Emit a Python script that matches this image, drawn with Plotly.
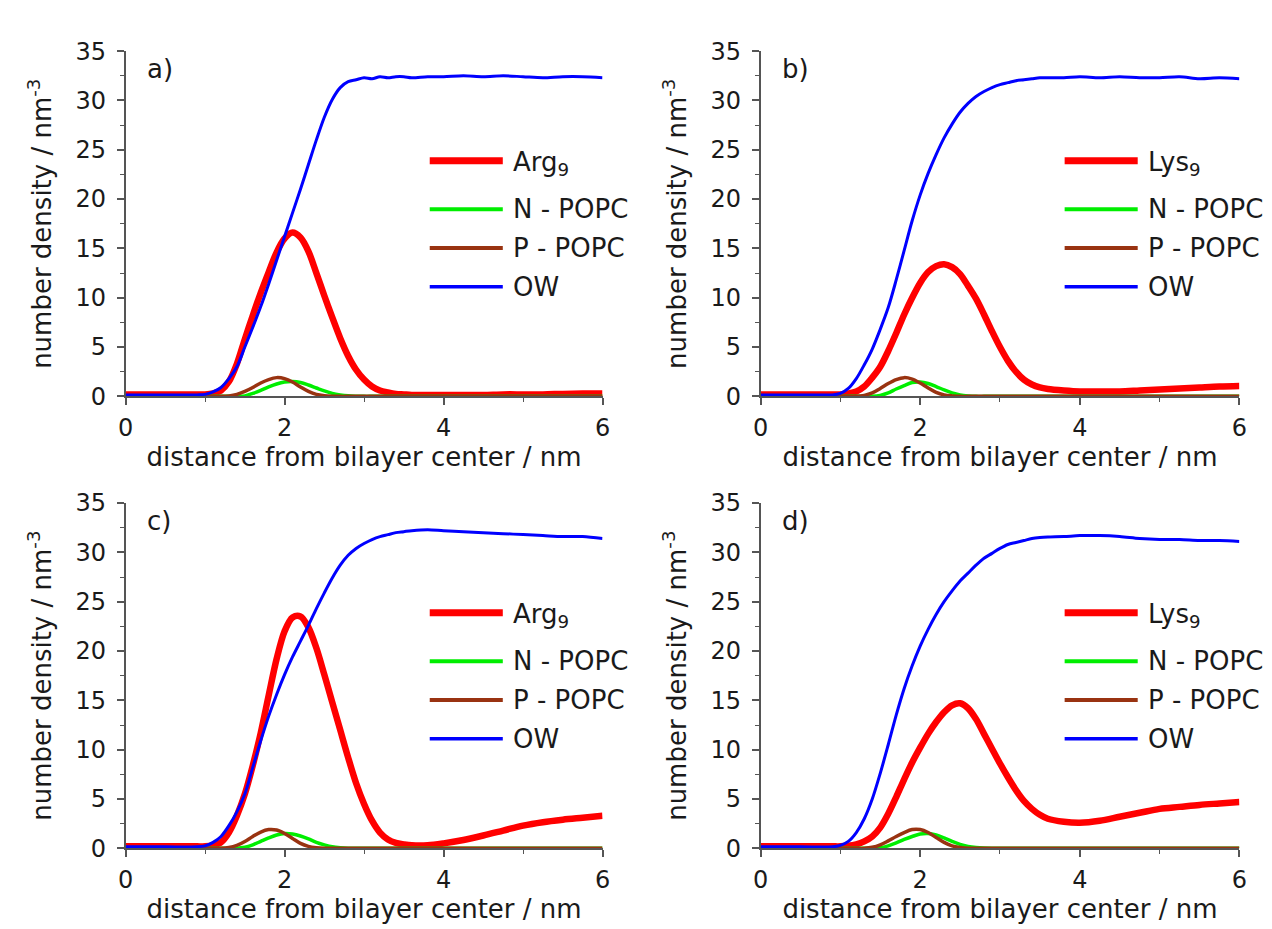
import plotly.graph_objects as go

# shared x grid (nm)
X = [0, 0.5, 0.9, 1.0, 1.1, 1.2, 1.3, 1.4, 1.5, 1.6, 1.7, 1.8, 1.9, 2.0, 2.1, 2.2, 2.3, 2.4,
     2.5, 2.6, 2.7, 2.8, 2.9, 3.0, 3.1, 3.2, 3.3, 3.4, 3.5, 3.6, 3.8, 4.0, 4.25, 4.5, 4.75,
     5.0, 5.25, 5.5, 5.75, 6.0]

# panel a) Arg9
RED_A = [0.2, 0.2, 0.2, 0.2, 0.3, 0.6, 1.5, 3.3, 5.8, 8.2, 10.5, 12.6, 14.6, 16.0, 16.6, 16.1, 14.7, 12.5,
         10.2, 8.0, 5.9, 4.1, 2.7, 1.7, 1.0, 0.6, 0.4, 0.25, 0.2, 0.15, 0.15, 0.15, 0.15, 0.15, 0.2,
         0.2, 0.2, 0.25, 0.28, 0.3]
GREEN_A = [0, 0, 0, 0, 0, 0, 0, 0, 0.05, 0.3, 0.6, 0.95, 1.25, 1.45, 1.5, 1.4, 1.15, 0.85,
           0.55, 0.3, 0.15, 0.06, 0.02, 0, 0, 0, 0, 0, 0, 0, 0, 0, 0, 0, 0,
           0, 0, 0, 0, 0]
BROWN_A = [0, 0, 0, 0, 0, 0, 0.05, 0.2, 0.5, 0.9, 1.35, 1.7, 1.9, 1.8, 1.45, 0.95, 0.5, 0.2,
           0.07, 0.02, 0, 0, 0, 0, 0, 0, 0, 0, 0, 0, 0, 0, 0, 0, 0,
           0, 0, 0, 0, 0]
OW_A = [0.15, 0.15, 0.15, 0.2, 0.45, 0.9, 1.8, 3.0, 5.0, 7.0, 9.1, 11.4, 13.8, 16.2, 18.6, 21.0, 23.5, 26.0,
        28.3, 30.1, 31.3, 31.9, 32.1, 32.3, 32.2, 32.4, 32.3, 32.4, 32.4, 32.3, 32.4, 32.4, 32.5, 32.4, 32.5,
        32.4, 32.3, 32.4, 32.4, 32.3]

# panel b) Lys9
RED_B = [0.2, 0.2, 0.2, 0.2, 0.3, 0.5, 1.0, 1.9, 3.0, 4.6, 6.4, 8.3, 10.0, 11.5, 12.6, 13.2, 13.4, 13.1,
         12.4, 11.2, 9.9, 8.3, 6.6, 5.0, 3.6, 2.5, 1.7, 1.2, 0.9, 0.75, 0.6, 0.5, 0.5, 0.5, 0.6,
         0.7, 0.8, 0.9, 1.0, 1.05]
GREEN_B = [0, 0, 0, 0, 0, 0, 0, 0, 0.1, 0.35, 0.75, 1.1, 1.4, 1.45, 1.3, 1.0, 0.65, 0.35,
           0.15, 0.05, 0, 0, 0, 0, 0, 0, 0, 0, 0, 0, 0, 0, 0, 0, 0,
           0, 0, 0, 0, 0]
BROWN_B = [0, 0, 0, 0, 0, 0, 0.1, 0.35, 0.8, 1.3, 1.7, 1.9, 1.75, 1.35, 0.85, 0.4, 0.15, 0.05,
           0, 0, 0, 0, 0, 0, 0, 0, 0, 0, 0, 0, 0, 0, 0, 0, 0,
           0, 0, 0, 0, 0]
OW_B = [0.15, 0.15, 0.15, 0.3, 0.8, 1.8, 3.2, 4.8, 6.8, 9.0, 11.8, 14.8, 17.8, 20.4, 22.6, 24.5, 26.2, 27.6,
        28.8, 29.7, 30.4, 30.9, 31.3, 31.6, 31.8, 32.0, 32.1, 32.2, 32.3, 32.3, 32.3, 32.4, 32.3, 32.4, 32.3,
        32.3, 32.4, 32.2, 32.3, 32.2]

# panel c) Arg9
RED_C = [0.2, 0.2, 0.2, 0.2, 0.3, 0.6, 1.6, 3.3, 5.5, 8.4, 11.7, 15.5, 19.2, 22.0, 23.4, 23.5, 22.4, 20.3,
         17.6, 14.8, 12.0, 9.2, 6.6, 4.5, 2.8, 1.6, 0.9, 0.55, 0.4, 0.3, 0.3, 0.5, 0.85, 1.3, 1.8,
         2.3, 2.65, 2.9, 3.1, 3.3]
GREEN_C = [0, 0, 0, 0, 0, 0, 0, 0, 0.1, 0.35, 0.7, 1.05, 1.35, 1.5, 1.45, 1.25, 0.95, 0.6,
           0.35, 0.15, 0.05, 0, 0, 0, 0, 0, 0, 0, 0, 0, 0, 0, 0, 0, 0,
           0, 0, 0, 0, 0]
BROWN_C = [0, 0, 0, 0, 0, 0, 0.08, 0.3, 0.7, 1.2, 1.65, 1.9, 1.85, 1.5, 1.0, 0.5, 0.2, 0.06,
           0, 0, 0, 0, 0, 0, 0, 0, 0, 0, 0, 0, 0, 0, 0, 0, 0,
           0, 0, 0, 0, 0]
OW_C = [0.15, 0.15, 0.15, 0.25, 0.6, 1.2, 2.3, 3.7, 5.5, 8.2, 10.9, 13.4, 15.6, 17.6, 19.4, 21.0, 22.6, 24.3,
        25.9, 27.4, 28.7, 29.7, 30.4, 30.9, 31.3, 31.6, 31.8, 32.0, 32.1, 32.2, 32.3, 32.2, 32.1, 32.0, 31.9,
        31.8, 31.7, 31.6, 31.6, 31.4]

# panel d) Lys9
RED_D = [0.2, 0.2, 0.2, 0.2, 0.25, 0.4, 0.7, 1.2, 2.1, 3.5, 5.2, 7.0, 8.7, 10.2, 11.6, 12.8, 13.8, 14.5,
         14.7, 14.2, 13.1, 11.6, 10.1, 8.6, 7.2, 5.9, 4.8, 4.0, 3.4, 3.0, 2.7, 2.6, 2.8, 3.2, 3.6,
         4.0, 4.2, 4.4, 4.55, 4.7]
GREEN_D = [0, 0, 0, 0, 0, 0, 0, 0, 0.05, 0.25, 0.55, 0.9, 1.2, 1.45, 1.5, 1.35, 1.05, 0.7,
           0.4, 0.2, 0.08, 0.02, 0, 0, 0, 0, 0, 0, 0, 0, 0, 0, 0, 0, 0,
           0, 0, 0, 0, 0]
BROWN_D = [0, 0, 0, 0, 0, 0, 0, 0.1, 0.35, 0.75, 1.2, 1.6, 1.9, 1.9, 1.6, 1.1, 0.6, 0.25,
           0.08, 0, 0, 0, 0, 0, 0, 0, 0, 0, 0, 0, 0, 0, 0, 0, 0,
           0, 0, 0, 0, 0]
OW_D = [0.15, 0.15, 0.15, 0.3, 0.7, 1.6, 3.0, 5.0, 7.6, 10.5, 13.5, 16.2, 18.5, 20.5, 22.2, 23.7, 25.0, 26.1,
        27.1, 27.9, 28.7, 29.4, 29.9, 30.4, 30.8, 31.0, 31.2, 31.4, 31.5, 31.55, 31.6, 31.7, 31.7, 31.6, 31.4,
        31.3, 31.3, 31.2, 31.2, 31.1]

PANEL_LABELS = ["a)", "b)", "c)", "d)"]
PEPTIDES = ["Arg<sub>9</sub>", "Lys<sub>9</sub>", "Arg<sub>9</sub>", "Lys<sub>9</sub>"]
SERIES_NAMES = ["N - POPC", "P - POPC", "OW"]
X_TICKS = [0, 2, 4, 6]
Y_TICKS = [0, 5, 10, 15, 20, 25, 30, 35]
X_TITLE = "distance from bilayer center / nm"
Y_TITLE = "number density / nm<sup>-3</sup>"

panels = [
    (RED_A, GREEN_A, BROWN_A, OW_A),
    (RED_B, GREEN_B, BROWN_B, OW_B),
    (RED_C, GREEN_C, BROWN_C, OW_C),
    (RED_D, GREEN_D, BROWN_D, OW_D),
]

COLORS = ["#ff0000", "#00ee00", "#993311", "#0000ff"]
WIDTHS = [6.5, 3.5, 3.5, 3]

W, H = 1272, 929
def px(x):
    return x / W
def py(y):
    return 1 - y / H

# plot areas in pixels: (left, right, top, bottom)
AREAS = [(111, 594, 30, 386), (754, 1239, 30, 386), (111, 594, 496, 852), (754, 1239, 496, 852)]

FONT = "DejaVu Sans"
TXT = "#1a1a1a"
AXC = "#555555"

fig = go.Figure()
layout = dict(width=W, height=H, margin=dict(l=0, r=0, t=0, b=0),
              paper_bgcolor="white", plot_bgcolor="white", showlegend=False,
              font=dict(family=FONT, size=24, color=TXT))
annotations = []
shapes = []

for i, (series, area) in enumerate(zip(panels, AREAS)):
    n = "" if i == 0 else str(i + 1)
    xa, ya = "x" + n, "y" + n
    names = [PEPTIDES[i].replace("<sub>", "").replace("</sub>", "")] + SERIES_NAMES
    for s, col, w, nm in zip(series, COLORS, WIDTHS, names):
        fig.add_trace(go.Scatter(x=X, y=s, mode="lines", name=nm, xaxis=xa, yaxis=ya,
                                 line=dict(color=col, width=w, shape="spline", smoothing=0.9)))
    l, r, t, b = area
    axcommon = dict(showgrid=False, zeroline=False, showline=True, linecolor=AXC, linewidth=1.5,
                    ticks="outside", tickcolor=AXC, tickwidth=1.5, ticklen=7,
                    tickfont=dict(family=FONT, size=24, color=TXT))
    layout["xaxis" + n] = dict(axcommon, domain=[px(l), px(r)], range=[0, 6], anchor=ya,
                               tickvals=X_TICKS, ticklabelstandoff=2,
                               minor=dict(dtick=1, ticklen=4, tickcolor=AXC, tickwidth=1.2, ticks="outside"),
                               title=dict(text=X_TITLE, font=dict(family=FONT, size=26, color=TXT), standoff=6))
    layout["yaxis" + n] = dict(axcommon, domain=[py(b), py(t)], range=[0, 35], anchor=xa,
                               tickvals=Y_TICKS, ticklabelstandoff=6,
                               minor=dict(dtick=2.5, ticklen=4, tickcolor=AXC, tickwidth=1.2, ticks="outside"),
                               title=dict(text=Y_TITLE, font=dict(family=FONT, size=26, color=TXT), standoff=16))
    # panel label
    annotations.append(dict(text=PANEL_LABELS[i], xref="paper", yref="paper",
                            x=px(l + 20), y=py(t + 18), xanchor="left", yanchor="middle",
                            showarrow=False, font=dict(family=FONT, size=26, color=TXT)))
    # legend (drawn manually to match long line samples)
    lx0 = l + 308
    lx1 = lx0 + 74
    rows = [t + 113, t + 163, t + 203, t + 243]
    for k, (nm, col, w) in enumerate(zip([PEPTIDES[i]] + SERIES_NAMES, COLORS, WIDTHS)):
        shapes.append(dict(type="line", xref="paper", yref="paper",
                           x0=px(lx0), x1=px(lx1), y0=py(rows[k]), y1=py(rows[k]),
                           line=dict(color=col, width=w + 0.5)))
        annotations.append(dict(text=nm, xref="paper", yref="paper",
                                x=px(lx1 + 8), y=py(rows[k] + (3 if k == 0 else 0)),
                                xanchor="left", yanchor="middle", showarrow=False,
                                font=dict(family=FONT, size=26, color=TXT)))

layout["annotations"] = annotations
layout["shapes"] = shapes
fig.update_layout(**layout)
fig.write_html("out.html")
